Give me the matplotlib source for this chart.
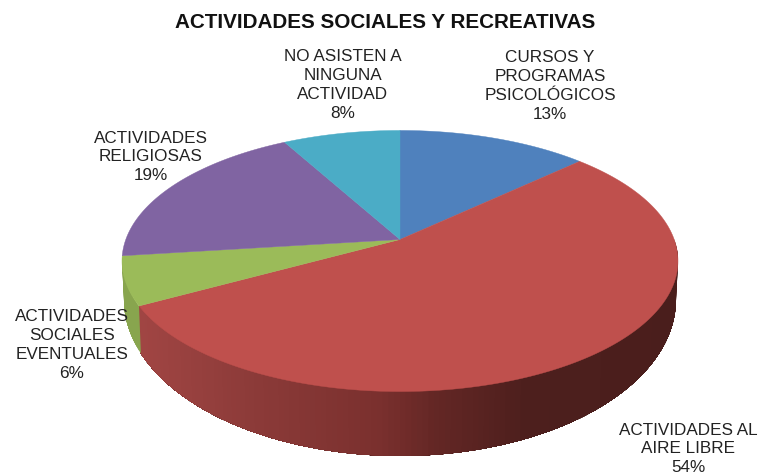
import numpy as np
import matplotlib
matplotlib.use("Agg")
import matplotlib.pyplot as plt
from matplotlib.colors import LinearSegmentedColormap, to_rgb
from matplotlib.patches import Polygon

plt.rcParams['font.family'] = ['Liberation Sans', 'DejaVu Sans']

# --- datos ---
categorias = ["CURSOS Y\nPROGRAMAS\nPSICOLÓGICOS",
              "ACTIVIDADES AL\nAIRE LIBRE",
              "ACTIVIDADES\nSOCIALES\nEVENTUALES",
              "ACTIVIDADES\nRELIGIOSAS",
              "NO ASISTEN A\nNINGUNA\nACTIVIDAD"]
valores = [13, 54, 6, 19, 8]
colores = ['#4f81bd', '#bf504d', '#9bbb59', '#8064a2', '#4bacc6']
titulo = "ACTIVIDADES SOCIALES Y RECREATIVAS"

# posicion de cada etiqueta (centro del bloque, en pixeles de la figura)
pos_etiquetas = [(550, 86), (688, 449), (72, 345), (151, 157), (343, 85)]

# --- proyeccion del disco (perspectiva) ---
P = 0.1647
CX = 400


def proyectar(theta, apex_y, a, b):
    # theta en grados, horario desde arriba
    t = np.radians(theta)
    d = 1 + P * np.cos(t)
    return CX + a * np.sin(t) / d, apex_y - b * np.cos(t) / d


def borde_sup(theta):
    return proyectar(theta, 240.5, 274.2, 127.0)


def borde_inf(theta):
    return proyectar(theta, 275, 272.2, 152.0)


cmap_lado = LinearSegmentedColormap.from_list(
    'lado', [(0.0, '#a04543'), (0.22, '#8b3a38'), (0.45, '#7a302e'),
             (0.55, '#642725'), (0.72, '#4d1f1d'), (1.0, '#4a1e1c')])

fig = plt.figure(figsize=(7.59, 4.77), dpi=100)
ax = fig.add_axes([0, 0, 1, 1])
ax.set_xlim(0, 759)
ax.set_ylim(477, 0)
ax.axis('off')

limites = np.cumsum([0] + valores) * 3.6

# --- pared lateral, solo la parte visible ---
for i, color in enumerate(colores):
    ini = max(limites[i], 90)
    fin = min(limites[i + 1], 262)
    if fin <= ini:
        continue
    pasos = np.arange(ini, fin, 1.0)
    for t0 in pasos:
        # cada tira llega hasta el final del tramo y la siguiente la pisa,
        # asi no quedan rayas entre tiras
        th = np.linspace(t0, fin, 60)
        xs, ys = borde_sup(th)
        xi, yi = borde_inf(th)
        pts = list(zip(xs, ys)) + list(zip(xi[::-1], yi[::-1]))
        if color == '#bf504d':
            c = cmap_lado(1 - np.clip((678 - borde_sup(t0)[0]) / 535, 0, 1))
        else:
            c = tuple(np.array(to_rgb(color)) * 0.88)
        ax.add_patch(Polygon(pts, facecolor=c, edgecolor='none'))

# --- cara superior ---
for i, color in enumerate(colores):
    th = np.linspace(limites[i], limites[i + 1], 200)
    xs, ys = borde_sup(th)
    pts = [(CX, 240.5)] + list(zip(xs, ys))
    ax.add_patch(Polygon(pts, facecolor=color, edgecolor=color, linewidth=0.3))

# --- textos ---
ax.text(385, 23, titulo, ha='center', va='center', fontsize=14.85,
        fontweight='bold', color='#111111')
for nombre, v, (x, y) in zip(categorias, valores, pos_etiquetas):
    ax.text(x, y, f"{nombre}\n{v}%", ha='center', va='center', fontsize=12.3,
            color='#222222', linespacing=1.33)

fig.savefig('out.png', dpi=100)
